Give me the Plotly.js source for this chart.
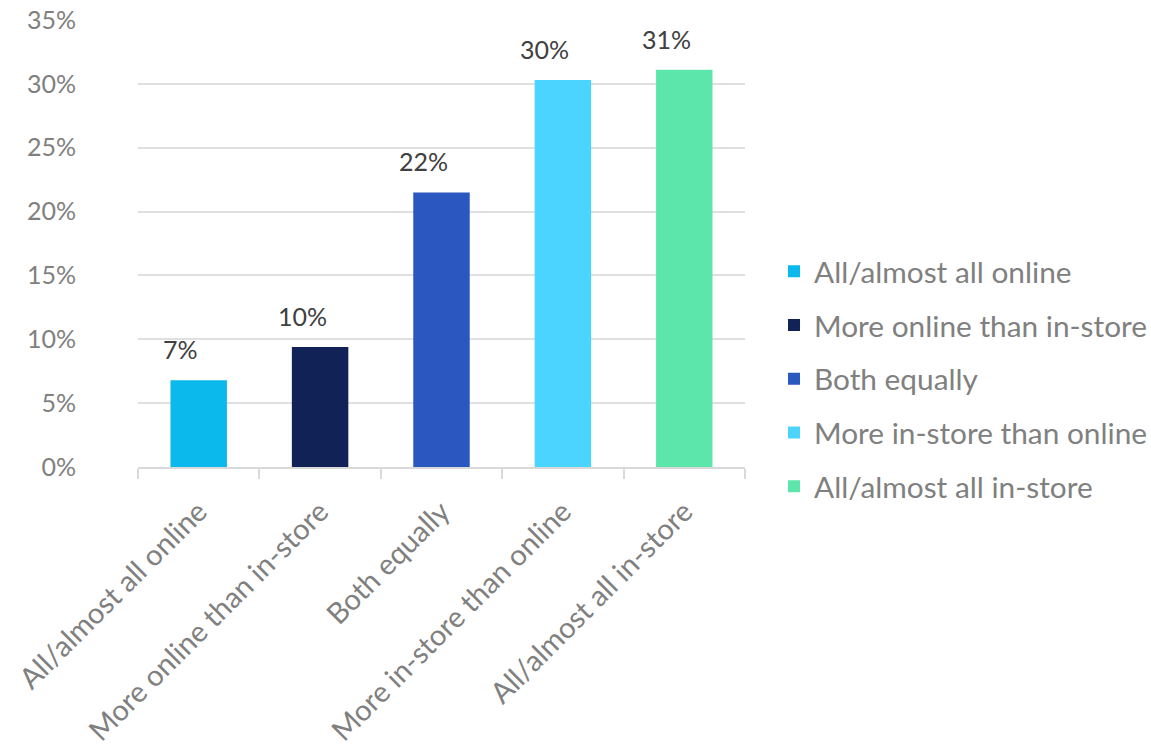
<!DOCTYPE html>
<html>
<head>
<meta charset="utf-8">
<script src="https://cdn.plot.ly/plotly-3.0.1.min.js"></script>
<style>html,body{margin:0;padding:0;background:#fff;}#chart{width:1151px;height:747px;}</style>
</head>
<body>
<div id="chart"></div>
<script>
const categories = ["All/almost all online", "More online than in-store", "Both equally", "More in-store than online", "All/almost all in-store"];
const values = [6.8, 9.4, 21.5, 30.3, 31.1];
const labels = ["7%", "10%", "22%", "30%", "31%"];
const colors = ["#0BB9EC", "#112256", "#2A57C0", "#4AD4FF", "#5DE6AB"];

const FONT = "Lato, 'Open Sans', sans-serif";

const traces = categories.map((c, i) => ({
  type: "bar",
  name: c,
  x: [c],
  y: [values[i]],
  width: 0.465,
  legendgroup: "g" + i,
  marker: { color: colors[i], line: { width: 0 } },
  hoverinfo: "skip"
}));

const annotations = categories.map((c, i) => ({
  x: c, y: values[i], xref: "x", yref: "y",
  text: labels[i], showarrow: false,
  yanchor: "middle", xanchor: "center",
  yshift: 31, xshift: -18,
  font: { family: FONT, size: 25, color: "#404040" }
}));

const layout = {
  width: 1151, height: 747,
  margin: { l: 138, r: 406, t: 20, b: 280, autoexpand: false },
  paper_bgcolor: "#ffffff", plot_bgcolor: "#ffffff",
  barmode: "relative",
  showlegend: true,
  legend: {
    x: 1.0478, xanchor: "left", y: 0.197, yanchor: "middle",
    font: { family: FONT, size: 29.8, color: "#808080" },
    tracegroupgap: 12, itemclick: false, itemdoubleclick: false
  },
  xaxis: {
    type: "category",
    showgrid: false, showline: true, linecolor: "#D9D9D9", linewidth: 2,
    ticks: "outside", tickson: "boundaries", ticklen: 10, tickcolor: "#D9D9D9", tickwidth: 2,
    tickangle: -45,
    ticklabelstandoff: 14,
    tickfont: { family: FONT, size: 29, color: "#808080" }
  },
  yaxis: {
    range: [0, 35], dtick: 5, ticksuffix: "%",
    showgrid: true, gridcolor: "#E0E0E0", gridwidth: 2,
    showline: false, zeroline: false, ticks: "",
    ticklabelstandoff: 61,
    tickfont: { family: FONT, size: 25, color: "#808080" }
  },
  annotations: annotations
};

Plotly.newPlot("chart", traces, layout, { staticPlot: true, displayModeBar: false });
</script>
</body>
</html>
